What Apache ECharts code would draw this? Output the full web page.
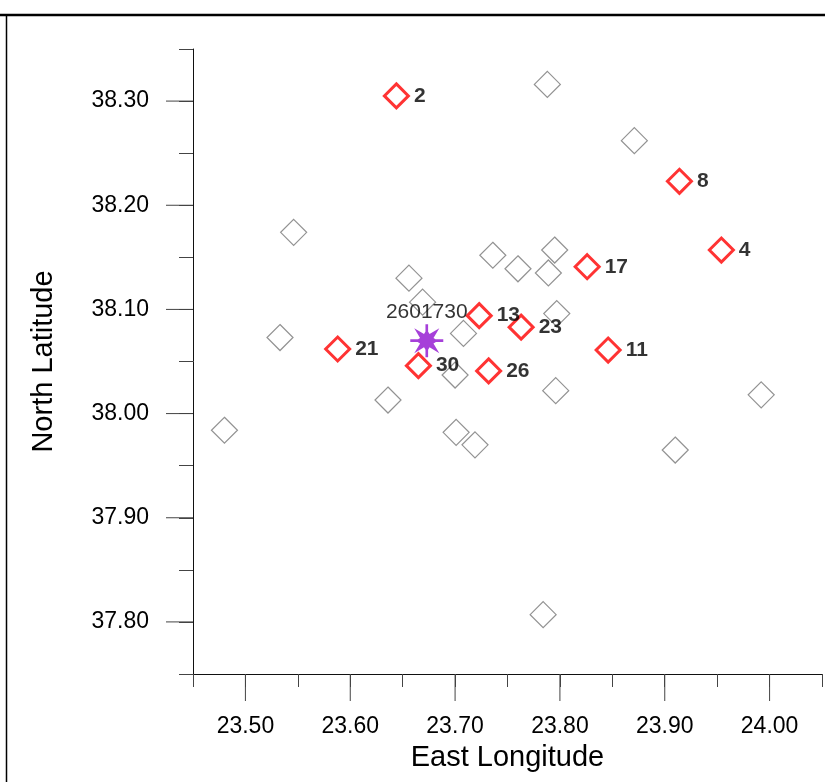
<!DOCTYPE html>
<html>
<head>
<meta charset="utf-8">
<script src="https://cdn.jsdelivr.net/npm/echarts@6/dist/echarts.min.js"></script>
<style>html,body{margin:0;padding:0;background:#fff}#c{width:825px;height:782px}</style>
</head>
<body>
<div id="c"></div>
<script>
// ---- data ----
const grayLon = [23.546, 23.788, 23.871, 23.795, 23.760, 23.789, 23.736, 23.797, 23.796, 23.992, 23.910, 23.656, 23.669, 23.708, 23.533, 23.700, 23.636, 23.480, 23.701, 23.719, 23.784];
const grayLat = [38.174, 38.316, 38.262, 38.157, 38.139, 38.135, 38.152, 38.096, 38.022, 38.018, 37.965, 38.130, 38.107, 38.077, 38.073, 38.037, 38.013, 37.984, 37.982, 37.970, 37.807];
const redIds = ['2', '8', '4', '17', '23', '11', '13', '21', '30', '26'];
const redLon = [23.644, 23.914, 23.954, 23.826, 23.763, 23.846, 23.723, 23.588, 23.665, 23.732];
const redLat = [38.305, 38.223, 38.157, 38.141, 38.083, 38.061, 38.094, 38.062, 38.046, 38.041];
const starName = '2601730';
const starLon = 23.673;
const starLat = 38.070;
const xTickLabels = ['23.50', '23.60', '23.70', '23.80', '23.90', '24.00'];
const yTickLabels = ['37.80', '37.90', '38.00', '38.10', '38.20', '38.30'];
const xMin = 23.45, xMax = 24.05, yMin = 37.75, yMax = 38.35, step = 0.05;

const FONT = '"Liberation Sans", Arial, sans-serif';
const starPath = 'path://M46 0 L54 0 L54 100 L46 100 Z M0 46 L100 46 L100 54 L0 54 Z M50 16 L58.4 29.7 L88 12 L70.3 41.6 L84 50 L70.3 58.4 L88 88 L58.4 70.3 L50 84 L41.6 70.3 L12 88 L29.7 58.4 L16 50 L29.7 41.6 L12 12 L41.6 29.7 Z';

const chart = echarts.init(document.getElementById('c'), null, {renderer: 'canvas'});

const xMajor = xTickLabels.map(Number);
const yMajor = yTickLabels.map(Number);

function tickItem(isX) {
  return function (params, api) {
    const p = api.coord([api.value(0), api.value(1)]);
    const shape = isX
      ? {x1: p[0], y1: p[1], x2: p[0], y2: p[1] + 27}
      : {x1: p[0] - 27, y1: p[1], x2: p[0], y2: p[1]};
    return {type: 'line', shape: shape, style: {stroke: '#444', lineWidth: 1}, silent: true};
  };
}

chart.setOption({
  animation: false,
  backgroundColor: '#fff',
  grid: {left: 193, top: 49, right: 3, bottom: 108, containLabel: false},
  xAxis: {
    type: 'value', min: xMin, max: xMax, interval: step,
    name: 'East Longitude', nameLocation: 'middle', nameGap: 69,
    nameTextStyle: {fontFamily: FONT, fontSize: 29, color: '#000'},
    axisLine: {show: true, lineStyle: {color: '#111', width: 1}},
    axisTick: {show: true, length: 13, lineStyle: {color: '#444', width: 1}},
    axisLabel: {
      margin: 41, fontFamily: FONT, fontSize: 23, color: '#000',
      formatter: v => { const s = v.toFixed(2); return xTickLabels.includes(s) ? s : ''; }
    },
    splitLine: {show: false}
  },
  yAxis: {
    type: 'value', min: yMin, max: yMax, interval: step,
    name: 'North Latitude', nameLocation: 'middle', nameGap: 135,
    nameTextStyle: {fontFamily: FONT, fontSize: 29, color: '#000'},
    axisLine: {show: true, lineStyle: {color: '#111', width: 1}},
    axisTick: {show: true, length: 14, lineStyle: {color: '#444', width: 1}},
    axisLabel: {
      margin: 44, fontFamily: FONT, fontSize: 23, color: '#000',
      formatter: v => { const s = v.toFixed(2); return yTickLabels.includes(s) ? s : ''; }
    },
    splitLine: {show: false}
  },
  graphic: [
    {type: 'line', shape: {x1: 0, y1: 15, x2: 825, y2: 15}, style: {stroke: '#000', lineWidth: 2.5}},
    {type: 'line', shape: {x1: 6.5, y1: 14, x2: 6.5, y2: 782}, style: {stroke: '#000', lineWidth: 1.5}}
  ],
  series: [
    {
      type: 'custom', coordinateSystem: 'cartesian2d', silent: true, clip: false,
      renderItem: tickItem(true), data: xMajor.map(v => [v, yMin]), z: 1
    },
    {
      type: 'custom', coordinateSystem: 'cartesian2d', silent: true, clip: false,
      renderItem: tickItem(false), data: yMajor.map(v => [xMin, v]), z: 1
    },
    {
      type: 'scatter', symbol: 'diamond', symbolSize: 26, silent: true,
      itemStyle: {color: 'rgba(0,0,0,0)', borderColor: '#777777', borderWidth: 1.2},
      data: grayLon.map((x, i) => [x, grayLat[i]]), z: 2
    },
    {
      type: 'scatter', symbol: 'diamond', symbolSize: 24, silent: true,
      itemStyle: {color: 'rgba(0,0,0,0)', borderColor: '#ff0000', borderWidth: 3},
      label: {
        show: true, position: 'right', distance: 4,
        formatter: p => p.name,
        fontFamily: FONT, fontSize: 21, fontWeight: 'bold', color: '#000'
      },
      data: redLon.map((x, i) => ({name: redIds[i], value: [x, redLat[i]]})), z: 3
    },
    {
      type: 'scatter', symbol: starPath, symbolSize: 33, silent: true,
      itemStyle: {color: '#9010d0'},
      label: {
        show: true, position: 'top', distance: 1,
        formatter: p => p.name,
        fontFamily: FONT, fontSize: 21, color: '#000'
      },
      data: [{name: starName, value: [starLon, starLat]}], z: 4
    }
  ]
});
</script>
</body>
</html>
